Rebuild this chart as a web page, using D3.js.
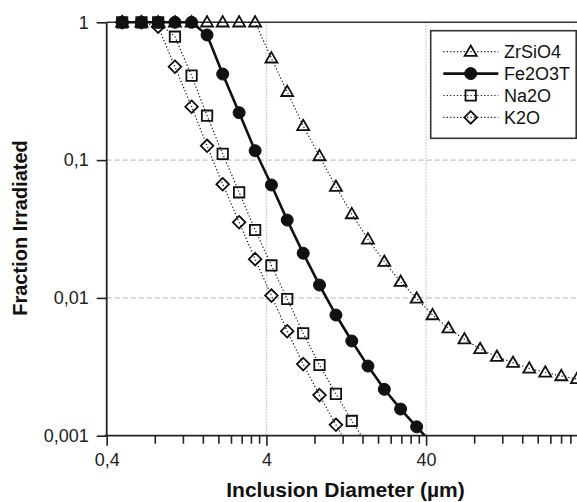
<!DOCTYPE html>
<html>
<head>
<meta charset="utf-8">
<script src="https://cdn.jsdelivr.net/npm/d3@7"></script>
<style>
  html, body { margin: 0; padding: 0; background: #fff; }
  svg { display: block; }
  text { font-family: "Liberation Sans", Arial, Helvetica, sans-serif; }
</style>
</head>
<body>
<svg id="chart" width="577" height="502"></svg>
<script>
// ---- data ----
const diameters = [0.5, 0.66, 0.84, 1.07, 1.36, 1.7, 2.13, 2.7, 3.4, 4.3, 5.4, 6.8, 8.6, 10.9, 13.7,
  17.3, 21.9, 27.7, 34.9, 43.9, 55.2, 69.5, 87.2, 111, 140, 177, 223, 281, 352];

const zrsio4 = [1, 1, 1, 1, 1, 1, 1, 1, 1, 0.548, 0.313, 0.177, 0.107, 0.0641, 0.0406, 0.0266,
  0.0183, 0.0131, 0.0099, 0.00751, 0.00602, 0.00501, 0.00426, 0.00374, 0.00339, 0.00308,
  0.00288, 0.00271, 0.00258];
const fe2o3t = [1, 1, 1, 1, 1, 0.809, 0.421, 0.221, 0.117, 0.066, 0.0367, 0.0211, 0.0124,
  0.00751, 0.00487, 0.0032, 0.00217, 0.00156, 0.00116, 0.00087];
const na2o = [1, 1, 1, 0.786, 0.41, 0.21, 0.111, 0.0584, 0.0311, 0.0172, 0.00982, 0.00554,
  0.00326, 0.00201, 0.00128, 0.00084];
const k2o = [1, 1, 0.929, 0.476, 0.244, 0.127, 0.0668, 0.0354, 0.0191, 0.0104, 0.00573,
  0.00331, 0.00197, 0.0012, 0.00075];

const seriesNames = ["ZrSiO4", "Fe2O3T", "Na2O", "K2O"];
const seriesValues = [zrsio4, fe2o3t, na2o, k2o];
const seriesSymbols = ["triangle", "circle", "square", "diamond"];

const xMajorTicks = [0.4, 4, 40];
const yTicks = [1, 0.1, 0.01, 0.001];
const xTitle = "Inclusion Diameter (µm)";
const yTitle = "Fraction Irradiated";

// ---- layout ----
const svg = d3.select("#chart");
const W = 577;
const plotLeft = 106.7, plotTop = 22.3, plotBottom = 435.7;
const decade = 159.7;

const x = d3.scaleLog().domain([0.4, 400]).range([plotLeft, plotLeft + 3 * decade]);
const y = d3.scaleLog().domain([0.001, 1]).range([plotBottom, plotTop]);

const loc = d3.formatLocale({decimal: ",", thousands: ".", grouping: [3], currency: ["", ""]});
const fmt = v => loc.format("~g")(v);

// clip for data (only below axis)
svg.append("defs").append("clipPath").attr("id", "clip")
  .append("rect").attr("x", 0).attr("y", 0).attr("width", W).attr("height", plotBottom);

// grid
const grid = svg.append("g");
grid.selectAll("line.h").data([0.1, 0.01]).join("line")
  .attr("x1", plotLeft).attr("x2", W)
  .attr("y1", d => y(d)).attr("y2", d => y(d))
  .attr("stroke", "#c4c4c4").attr("stroke-width", 1.2).attr("stroke-dasharray", "5,3");
grid.selectAll("line.v").data([4, 40]).join("line")
  .attr("y1", plotTop).attr("y2", plotBottom)
  .attr("x1", d => x(d)).attr("x2", d => x(d))
  .attr("stroke", "#c4c4c4").attr("stroke-width", 1.2).attr("stroke-dasharray", "1.5,1.5");
// top line at 1
grid.append("line").attr("x1", plotLeft).attr("x2", W).attr("y1", y(1)).attr("y2", y(1))
  .attr("stroke", "#333").attr("stroke-width", 1.6);

// x minor ticks
const xMinor = [];
[0.4, 4, 40].forEach(b => { for (let k = 2; k <= 9; k++) xMinor.push(+(b * k).toPrecision(3)); });
const xAxisMinor = d3.axisBottom(x).tickValues(xMinor).tickSize(8).tickFormat("");
const xAxisMajor = d3.axisBottom(x).tickValues(xMajorTicks).tickSize(10).tickPadding(8).tickFormat(fmt);

const gxMinor = svg.append("g").attr("transform", `translate(0,${plotBottom})`).call(xAxisMinor);
const gx = svg.append("g").attr("transform", `translate(0,${plotBottom})`).call(xAxisMajor);
[gxMinor, gx].forEach(g => {
  g.select(".domain").remove();
  g.selectAll("line").attr("stroke", "#222").attr("stroke-width", 1.6);
});
gx.selectAll("text").attr("font-size", 18).attr("fill", "#222")
  .attr("font-family", "Liberation Sans, Arial, sans-serif");
svg.append("line").attr("x1", plotLeft - 2).attr("x2", W).attr("y1", plotBottom).attr("y2", plotBottom)
  .attr("stroke", "#222").attr("stroke-width", 1.8);

// y axis
const yAxis = d3.axisLeft(y).tickValues(yTicks).tickSize(10).tickPadding(8).tickFormat(fmt);
const gy = svg.append("g").attr("transform", `translate(${plotLeft},0)`).call(yAxis);
gy.select(".domain").remove();
gy.selectAll("line").attr("stroke", "#222").attr("stroke-width", 1.6);
gy.selectAll("text").attr("font-size", 18).attr("fill", "#222")
  .attr("font-family", "Liberation Sans, Arial, sans-serif");
svg.append("line").attr("x1", plotLeft).attr("x2", plotLeft).attr("y1", plotTop).attr("y2", plotBottom)
  .attr("stroke", "#222").attr("stroke-width", 1.8);

// titles
svg.append("text").attr("x", 345.5).attr("y", 497).attr("text-anchor", "middle")
  .attr("font-size", 21).attr("font-weight", "bold").attr("fill", "#111").text(xTitle);
svg.append("text").attr("transform", "translate(27,228) rotate(-90)").attr("text-anchor", "middle")
  .attr("font-size", 20).attr("font-weight", "bold").attr("fill", "#111").text(yTitle);

// symbols
const symPath = {
  triangle: "M0,-6.2L6,4.2L-6,4.2Z",
  circle: "M6,0A6,6 0 1,1 -6,0A6,6 0 1,1 6,0Z",
  square: "M-5.2,-5.2H5.2V5.2H-5.2Z",
  diamond: "M0,-6.3L6.3,0L0,6.3L-6.3,0Z"
};
function styleMarker(sel, sym) {
  if (sym === "circle") sel.attr("fill", "#111").attr("stroke", "#111").attr("stroke-width", 1);
  else sel.attr("fill", "none").attr("stroke", "#111").attr("stroke-width", 1.8);
}
function styleLine(sel, sym) {
  if (sym === "circle") sel.attr("stroke", "#111").attr("stroke-width", 2.6).attr("stroke-dasharray", null);
  else sel.attr("stroke", "#111").attr("stroke-width", 1.2).attr("stroke-dasharray", "1.2,2.2");
}

const plot = svg.append("g").attr("clip-path", "url(#clip)");
const line = d3.line().x(d => x(d[0])).y(d => y(d[1]));

seriesValues.forEach((vals, i) => {
  const pts = vals.map((v, j) => [diameters[j], v]);
  const sym = seriesSymbols[i];
  plot.append("path").datum(pts).attr("d", line).attr("fill", "none").call(styleLine, sym);
});
seriesValues.forEach((vals, i) => {
  const pts = vals.map((v, j) => [diameters[j], v]);
  const sym = seriesSymbols[i];
  plot.append("g").selectAll("path").data(pts).join("path")
    .attr("d", symPath[sym])
    .attr("transform", d => `translate(${x(d[0])},${y(d[1])})`)
    .call(styleMarker, sym);
});

// legend
const lg = svg.append("g");
lg.append("rect").attr("x", 430.7).attr("y", 30.7).attr("width", 145.5).attr("height", 107.6)
  .attr("fill", "#fff").attr("stroke", "#333").attr("stroke-width", 1.6);
seriesNames.forEach((name, i) => {
  const cy = 51.7 + i * 21.9;
  const sym = seriesSymbols[i];
  lg.append("line").attr("x1", 443.3).attr("x2", 498.3).attr("y1", cy).attr("y2", cy)
    .attr("fill", "none").call(styleLine, sym);
  lg.append("path").attr("d", symPath[sym]).attr("transform", `translate(470.7,${cy})`)
    .call(styleMarker, sym);
  lg.append("text").attr("x", 504).attr("y", cy).attr("dy", "0.35em")
    .attr("font-size", 18).attr("fill", "#111").text(name);
});
</script>
</body>
</html>
